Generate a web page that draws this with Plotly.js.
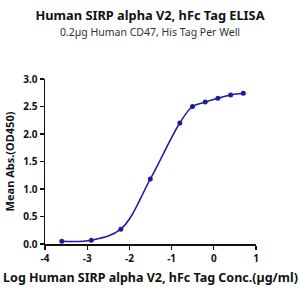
<!DOCTYPE html>
<html>
<head>
<meta charset="utf-8">
<script src="https://cdn.plot.ly/plotly-3.0.1.min.js"></script>
<style>html,body{margin:0;padding:0;background:#fff;}#chart{width:300px;height:300px;}</style>
</head>
<body>
<div id="chart"></div>
<script>
const logConc = [-3.602, -2.903, -2.204, -1.505, -0.806, -0.505, -0.204, 0.097, 0.398, 0.699];
const meanAbs = [0.05, 0.07, 0.27, 1.18, 2.20, 2.50, 2.58, 2.65, 2.71, 2.74];
const xTicks = [-4, -3, -2, -1, 0, 1];
const yTicks = [0.0, 0.5, 1.0, 1.5, 2.0, 2.5, 3.0];

const FONT = "Noto Sans, Open Sans, sans-serif";
const blue = "#1c1c9c";

const traces = [
  {
    x: logConc, y: meanAbs, mode: "lines", type: "scatter",
    line: {color: blue, width: 1.5, shape: "spline", smoothing: 1.0},
    hoverinfo: "skip"
  },
  {
    x: logConc, y: meanAbs, mode: "markers", type: "scatter",
    marker: {color: blue, size: 5}
  }
];

const layout = {
  width: 300, height: 300,
  margin: {l: 45, r: 44, t: 79, b: 56},
  paper_bgcolor: "#fff", plot_bgcolor: "#fff",
  showlegend: false,
  font: {family: FONT, color: "#111"},
  title: {
    text: "<b>Human SIRP alpha V2, hFc Tag ELISA</b><br><span style='font-size:10.5px;color:#333;font-weight:normal'>0.2µg Human CD47, His Tag Per Well</span>",
    font: {family: FONT, size: 12.8, color: "#111"},
    x: 0.5, xanchor: "center", y: 0.935, yanchor: "top"
  },
  xaxis: {
    range: [-4, 1], tickvals: xTicks, ticktext: xTicks.map(v => "<b>" + v + "</b>"),
    showgrid: false, zeroline: false, showline: true, linecolor: "#111", linewidth: 1.5,
    ticks: "outside", ticklen: 4, tickwidth: 1.3, tickcolor: "#111",
    tickfont: {family: FONT, size: 10, color: "#111"},
    title: {text: "<b>Log Human SIRP alpha V2, hFc Tag Conc.(µg/ml)</b>", font: {family: FONT, size: 12.5, color: "#111"}, standoff: 9}
  },
  yaxis: {
    range: [0, 3], tickvals: yTicks, ticktext: yTicks.map(v => "<b>" + v.toFixed(1) + "</b>"),
    showgrid: false, zeroline: false, showline: true, linecolor: "#111", linewidth: 1.5,
    ticks: "outside", ticklen: 4, tickwidth: 1.3, tickcolor: "#111",
    tickfont: {family: FONT, size: 10, color: "#111"},
    title: {text: "<b>Mean Abs.(OD450)</b>", font: {family: FONT, size: 11, color: "#111"}, standoff: 6}
  }
};

Plotly.newPlot("chart", traces, layout, {displayModeBar: false, staticPlot: true});
</script>
</body>
</html>
